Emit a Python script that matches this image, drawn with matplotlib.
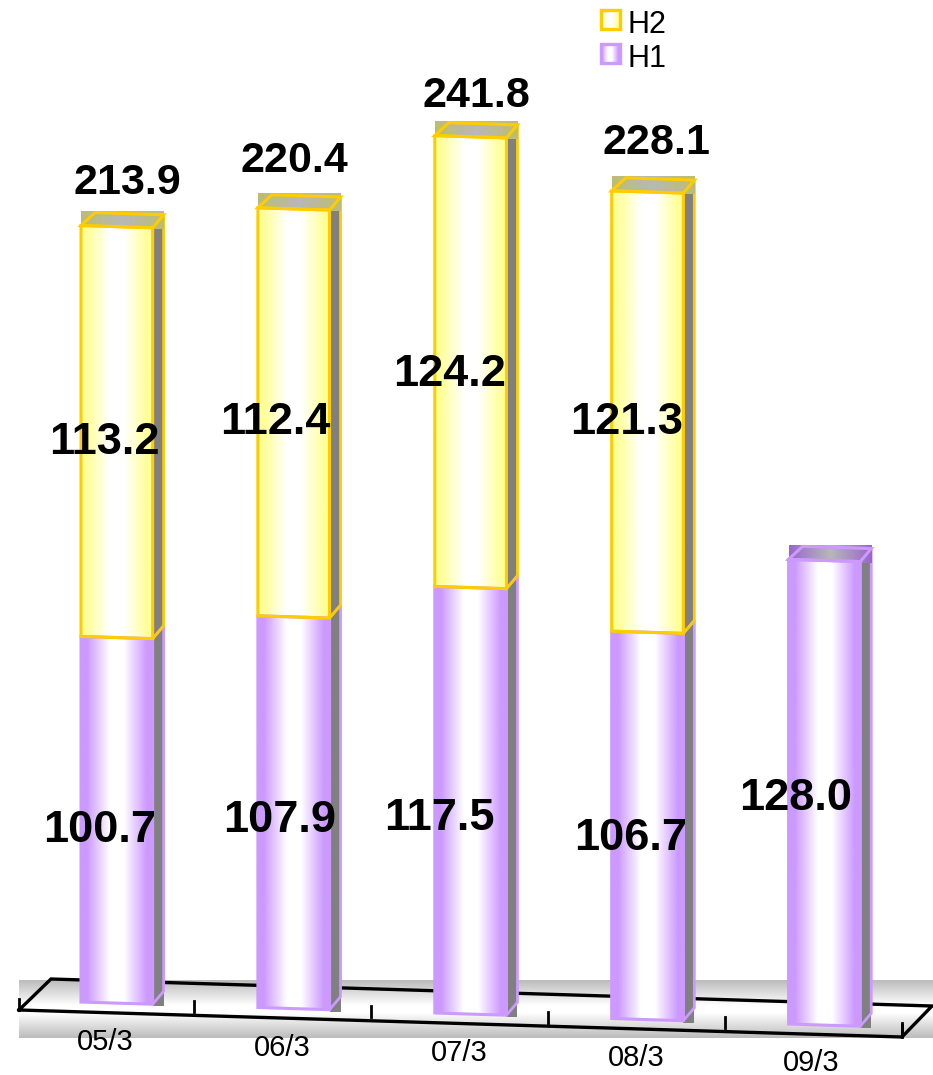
import matplotlib
matplotlib.use('Agg')
import matplotlib.pyplot as plt
import numpy as np
from matplotlib.colors import LinearSegmentedColormap
from matplotlib.patches import Polygon, Rectangle
from matplotlib.transforms import Affine2D

categories = ['05/3', '06/3', '07/3', '08/3', '09/3']
h1 = [100.7, 107.9, 117.5, 106.7, 128.0]
h2 = [113.2, 112.4, 124.2, 121.3, None]
totals = [213.9, 220.4, 241.8, 228.1, None]

plt.rcParams['font.family'] = ['Liberation Sans', 'DejaVu Sans']

YELLOW = '#ffff99'
YELLOW_LINE = '#ffcc00'
PURPLE = '#cc99ff'

fig = plt.figure(figsize=(9.33, 10.75), dpi=100)
ax = fig.add_axes([0, 0, 1, 1])
ax.set_xlim(0, 933)
ax.set_ylim(1075, 0)
ax.axis('off')

# (category, value) -> pixels, the chart is a skewed 3d projection
proj = Affine2D.from_values(176.9, 5.5, 0, -3.63, 81, 1002)
bar_w = 0.405
depth_x, depth_y = 11, 13


def pt(cat, val):
    return proj.transform((cat, val))


def bar_cmap(color):
    stops = [(0, color), (0.08, color), (0.4, 'white'), (0.6, 'white'), (0.92, color), (1, color)]
    return LinearSegmentedColormap.from_list('g', stops)


def gradient(extent, cmap, clip=None, z=2):
    grad = np.linspace(0, 1, 128).reshape(1, -1)
    im = ax.imshow(grad, extent=extent, cmap=cmap, aspect='auto', zorder=z)
    if clip is not None:
        im.set_clip_path(clip)
    return im


def segment(cat, v0, v1, color, line, top_col, show_top):
    a, b = pt(cat, v0), pt(cat + bar_w, v0)
    c, d = pt(cat + bar_w, v1), pt(cat, v1)
    # side face
    ax.add_patch(Rectangle((b[0], c[1] - 1), depth_x, b[1] - c[1] + 3, fc='#808080', ec='none', zorder=2))
    ax.add_patch(Polygon([b, b + [depth_x, -depth_y], c + [depth_x, -depth_y], c], fill=False, ec=line, lw=2.0, zorder=3))
    # front face
    front = Polygon([a, b, c, d], fc='none', ec='none', zorder=2)
    ax.add_patch(front)
    gradient((a[0], b[0], b[1] + 1, d[1]), bar_cmap(color), clip=front, z=4)
    ax.add_patch(Polygon([a, b, c, d], fill=False, ec=line, lw=2.2, zorder=5))
    if show_top:
        top = [d, d + [depth_x + 3, -depth_y], c + [depth_x, -depth_y], c]
        gradient((d[0], c[0] + depth_x, c[1] + 1, d[1] - depth_y - 1),
                 LinearSegmentedColormap.from_list('t', [top_col, '#b8b8b8', top_col]), z=3)
        ax.add_patch(Polygon(top, fill=False, ec=line, lw=2.2, zorder=5))


# floor
floor = np.concatenate([np.linspace(0, 1, 32), np.linspace(1, 1, 8), np.linspace(1, 0, 32)]).reshape(-1, 1)
ax.imshow(floor, extent=(19, 933, 1038, 980), cmap=LinearSegmentedColormap.from_list('f', ['#bcbcbc', 'white']),
          aspect='auto', zorder=1)
ax.plot([19, 51, 932, 902, 19], [1010, 979, 1006, 1037, 1010], color='black', lw=2.4, zorder=1.5, solid_joinstyle='miter')
ax.plot([19, 19], [999, 1010], color='black', lw=2, zorder=1.5)
for i in range(len(categories)):
    x, y = pt(i + 0.64, 0)
    ax.plot([x, x], [y - 5, y + 6], color='black', lw=2, zorder=1.5)
ax.plot([902, 902], [1025, 1037], color='black', lw=2, zorder=1.5)
ax.set_xlim(0, 933)
ax.set_ylim(1075, 0)

for i in range(len(categories)):
    has_h2 = h2[i] is not None
    segment(i, 0, h1[i], PURPLE, PURPLE, '#9966cc', not has_h2)
    if has_h2:
        segment(i, h1[i], h1[i] + h2[i], YELLOW, YELLOW_LINE, '#bdbd70', True)

# category labels
cat_x = [105, 282, 459, 636, 811]
cat_y = [1042, 1048, 1053, 1058, 1063]
for lab, x, y in zip(categories, cat_x, cat_y):
    ax.text(x, y, lab, fontsize=21, ha='center', va='center', color='black', zorder=6)

# data labels
h1_pos = [(100, 831), (280, 821), (439, 818), (631, 839), (796, 799)]
h2_pos = [(104, 442), (275, 423), (450, 374), (627, 422)]
tot_pos = [(127, 183), (294, 161), (476, 96), (657, 143)]
for v, (x, y) in zip(h1, h1_pos):
    ax.text(x, y, '%.1f' % v, fontsize=32.5, fontweight='bold', ha='center', va='center', zorder=6)
for v, (x, y) in zip(h2, h2_pos):
    ax.text(x, y, '%.1f' % v, fontsize=32.5, fontweight='bold', ha='center', va='center', zorder=6)
for v, (x, y) in zip(totals, tot_pos):
    ax.text(x, y, '%.1f' % v, fontsize=31, fontweight='bold', ha='center', va='center', zorder=6)

# legend
for name, y, col, line in [('H2', 9, YELLOW, YELLOW_LINE), ('H1', 43, PURPLE, PURPLE)]:
    gradient((600, 620, y + 20, y), bar_cmap(col), z=4)
    ax.add_patch(Rectangle((600.5, y + 0.5), 19, 19, fill=False, ec=line, lw=2.4, zorder=5))
    ax.text(628, y + 16, name, fontsize=22, ha='left', va='center', zorder=6)
ax.set_xlim(0, 933)
ax.set_ylim(1075, 0)

fig.savefig('out.png', dpi=100)
